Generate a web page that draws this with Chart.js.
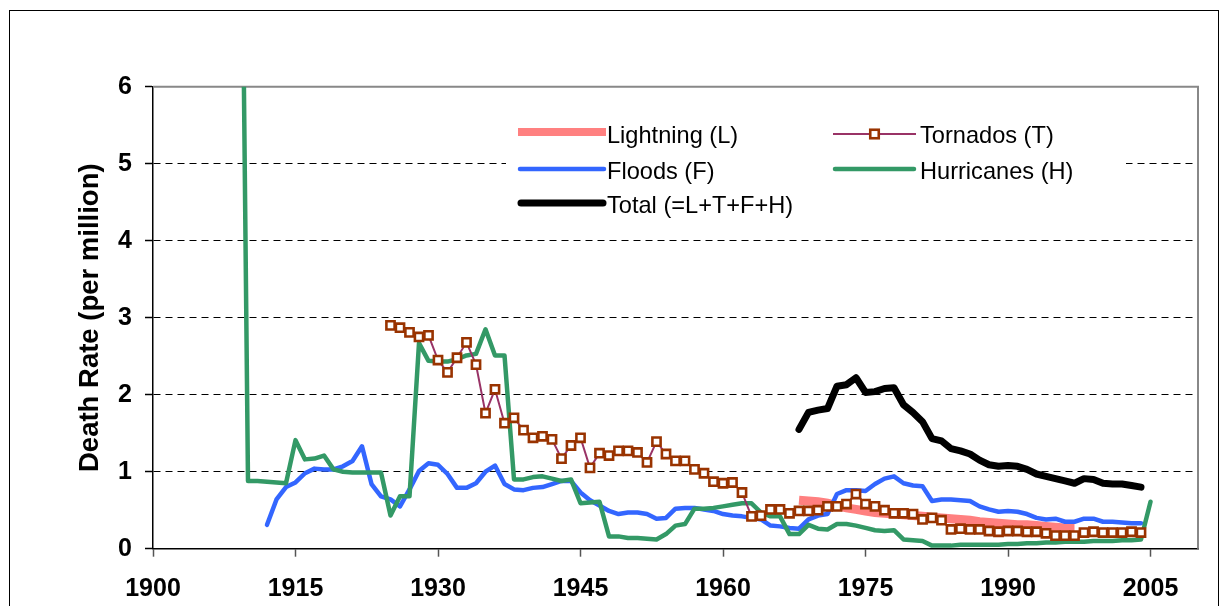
<!DOCTYPE html>
<html><head><meta charset="utf-8">
<script src="https://cdn.jsdelivr.net/npm/chart.js@4.4.1/dist/chart.umd.min.js"></script>
<style>html,body{margin:0;padding:0;background:#fff;}canvas{display:block;}</style>
</head><body>
<canvas id="c" width="1222" height="606"></canvas>
<script>
const _ = null;
const years = [1909,
 1910,1911,1912,1913,1914,1915,1916,1917,1918,1919,
 1920,1921,1922,1923,1924,1925,1926,1927,1928,1929,
 1930,1931,1932,1933,1934,1935,1936,1937,1938,1939,
 1940,1941,1942,1943,1944,1945,1946,1947,1948,1949,
 1950,1951,1952,1953,1954,1955,1956,1957,1958,1959,
 1960,1961,1962,1963,1964,1965,1966,1967,1968,1969,
 1970,1971,1972,1973,1974,1975,1976,1977,1978,1979,
 1980,1981,1982,1983,1984,1985,1986,1987,1988,1989,
 1990,1991,1992,1993,1994,1995,1996,1997,1998,1999,
 2000,2001,2002,2003,2004,2005];
const tickYears = [1900,1915,1930,1945,1960,1975,1990,2005];
const yTicks = [0,1,2,3,4,5,6];

const lightning = [_,
 _,_,_,_,_,_,_,_,_,_,
 _,_,_,_,_,_,_,_,_,_,
 _,_,_,_,_,_,_,_,_,_,
 _,_,_,_,_,_,_,_,_,_,
 _,_,_,_,_,_,_,_,_,_,
 _,_,_,_,_,_,_,_,0.63,0.62,
 0.61,0.59,0.56,0.53,0.51,0.49,0.47,0.46,0.45,0.44,
 0.43,0.42,0.41,0.40,0.39,0.38,0.37,0.35,0.34,0.33,
 0.32,0.31,0.31,0.30,0.29,0.28,0.27,0.27,_,_,
 _,_,_,_,_,_];
const tornados = [_,
 _,_,_,_,_,_,_,_,_,_,
 _,_,_,_,_,2.90,2.87,2.81,2.75,2.77,
 2.45,2.29,2.48,2.68,2.39,1.76,2.07,1.63,1.70,1.54,
 1.44,1.46,1.42,1.17,1.34,1.44,1.05,1.24,1.21,1.27,
 1.27,1.25,1.12,1.39,1.23,1.14,1.14,1.03,0.98,0.87,
 0.85,0.86,0.73,0.42,0.43,0.51,0.51,0.46,0.49,0.49,
 0.50,0.55,0.55,0.58,0.71,0.58,0.55,0.50,0.46,0.46,
 0.45,0.38,0.40,0.37,0.25,0.26,0.25,0.25,0.23,0.22,
 0.23,0.23,0.22,0.22,0.20,0.17,0.17,0.17,0.21,0.22,
 0.21,0.21,0.21,0.22,0.21,_];
const floods = [_,
 _,_,0.31,0.64,0.80,0.86,0.98,1.04,1.03,1.03,
 1.07,1.14,1.33,0.84,0.68,0.64,0.55,0.77,1.01,1.11,
 1.09,0.97,0.79,0.79,0.85,1.00,1.08,0.84,0.77,0.76,
 0.79,0.80,0.84,0.88,0.88,0.73,0.63,0.56,0.49,0.45,
 0.47,0.47,0.45,0.39,0.40,0.52,0.53,0.53,0.51,0.49,
 0.45,0.43,0.42,0.40,0.38,0.30,0.29,0.27,0.26,0.38,
 0.43,0.45,0.71,0.76,0.76,0.75,0.84,0.91,0.94,0.85,
 0.82,0.81,0.62,0.64,0.64,0.63,0.62,0.55,0.51,0.48,
 0.49,0.48,0.45,0.40,0.38,0.39,0.35,0.35,0.39,0.39,
 0.35,0.35,0.34,0.33,0.33,_];
const hurricanes = [12.8,
 0.88,0.88,0.87,0.86,0.85,1.41,1.16,1.17,1.21,1.03,
 1.00,0.99,0.99,0.99,0.99,0.43,0.68,0.68,2.67,2.44,
 2.43,2.43,2.46,2.51,2.53,2.85,2.51,2.51,0.90,0.90,
 0.93,0.94,0.91,0.88,0.90,0.59,0.60,0.61,0.16,0.16,
 0.14,0.14,0.13,0.12,0.19,0.30,0.32,0.52,0.52,0.53,
 0.55,0.57,0.59,0.59,0.47,0.42,0.42,0.19,0.19,0.31,
 0.26,0.25,0.32,0.32,0.30,0.27,0.24,0.23,0.24,0.12,
 0.11,0.10,0.04,0.04,0.04,0.05,0.05,0.05,0.05,0.05,
 0.06,0.06,0.07,0.07,0.08,0.08,0.09,0.09,0.09,0.10,
 0.10,0.10,0.11,0.11,0.12,0.61];
const total = [_,
 _,_,_,_,_,_,_,_,_,_,
 _,_,_,_,_,_,_,_,_,_,
 _,_,_,_,_,_,_,_,_,_,
 _,_,_,_,_,_,_,_,_,_,
 _,_,_,_,_,_,_,_,_,_,
 _,_,_,_,_,_,_,_,1.55,1.77,
 1.80,1.82,2.11,2.13,2.22,2.03,2.04,2.08,2.09,1.87,
 1.77,1.65,1.43,1.40,1.30,1.27,1.23,1.15,1.09,1.07,
 1.08,1.07,1.03,0.97,0.94,0.91,0.88,0.85,0.91,0.90,
 0.85,0.84,0.84,0.82,0.80,_];

const FONT = "'Liberation Sans', Arial, Helvetica, sans-serif";
Chart.defaults.font.family = FONT;
Chart.defaults.color = '#000';

const frame = {
  id: 'frame',
  beforeDraw(chart) {
    const c = chart.ctx;
    c.save();
    c.fillStyle = '#fff';
    c.fillRect(0, 0, chart.width, chart.height);
    c.strokeStyle = '#000';
    c.lineWidth = 1;
    c.strokeRect(9.5, 10.5, 1209, 700);
    c.restore();
  },
  beforeDatasetsDraw(chart) {
    const a = chart.chartArea, c = chart.ctx;
    c.save();
    c.strokeStyle = '#888';
    c.lineWidth = 2;
    c.beginPath();
    c.moveTo(a.left, a.top);
    c.lineTo(a.right, a.top);
    c.lineTo(a.right, a.bottom);
    c.stroke();
    c.restore();
  }
};

const legendBox = {
  id: 'legendBox',
  afterDraw(chart) {
    const c = chart.ctx;
    const ds = chart.data.datasets;
    c.save();
    c.fillStyle = '#fff';
    c.fillRect(506, 113, 620, 108);
    const entries = [
      {i: 0, x1: 518, x2: 606, ly: 132, tx: 607, ty: 143},
      {i: 1, x1: 833, x2: 916, ly: 134, tx: 920, ty: 143},
      {i: 2, x1: 520, x2: 604, ly: 169, tx: 607, ty: 179},
      {i: 3, x1: 835, x2: 914, ly: 169, tx: 920, ty: 179},
      {i: 4, x1: 521, x2: 603, ly: 203, tx: 607, ty: 213}
    ];
    c.font = '23.6px ' + FONT;
    c.textBaseline = 'alphabetic';
    c.textAlign = 'left';
    for (const e of entries) {
      const d = ds[e.i];
      c.strokeStyle = d.borderColor;
      c.lineWidth = d.legendLineWidth || d.borderWidth;
      c.lineCap = d.borderCapStyle || 'butt';
      c.beginPath();
      c.moveTo(e.x1, e.ly);
      c.lineTo(e.x2, e.ly);
      c.stroke();
      if (d.pointRadius) {
        const s = 8.5;
        const cx = (e.x1 + e.x2) / 2;
        c.fillStyle = d.pointBackgroundColor;
        c.fillRect(cx - s / 2, e.ly - s / 2, s, s);
        c.strokeStyle = d.pointBorderColor;
        c.lineWidth = d.pointBorderWidth;
        c.strokeRect(cx - s / 2, e.ly - s / 2, s, s);
      }
      c.fillStyle = '#000';
      c.fillText(d.label, e.tx, e.ty);
    }
    c.restore();
  }
};

new Chart(document.getElementById('c'), {
  type: 'line',
  data: {
    labels: years,
    datasets: [
      {label: 'Lightning (L)', data: lightning, borderColor: '#FF8080', borderWidth: 9, legendLineWidth: 8,
       borderCapStyle: 'butt', pointRadius: 0, order: 4},
      {label: 'Tornados (T)', data: tornados, borderColor: '#993366', borderWidth: 2,
       pointStyle: 'rect', pointRadius: 5.8, pointBorderWidth: 2.6, pointBorderColor: '#993300',
       pointBackgroundColor: '#FFFFFF', order: 1},
      {label: 'Floods (F)', data: floods, borderColor: '#3366FF', borderWidth: 4.5,
       borderCapStyle: 'round', borderJoinStyle: 'round', pointRadius: 0, order: 3},
      {label: 'Hurricanes (H)', data: hurricanes, borderColor: '#339966', borderWidth: 4.5,
       borderCapStyle: 'round', borderJoinStyle: 'round', pointRadius: 0, order: 2},
      {label: 'Total (=L+T+F+H)', data: total, borderColor: '#000000', borderWidth: 7,
       borderCapStyle: 'round', borderJoinStyle: 'round', pointRadius: 0, order: 0}
    ]
  },
  options: {
    responsive: false,
    animation: false,
    devicePixelRatio: 1,
    tension: 0,
    layout: {padding: {top: 86.7, right: 24, bottom: 0, left: 0}},
    plugins: {legend: {display: false}, tooltip: {enabled: false}},
    scales: {
      x: {
        type: 'linear', min: 1900, max: 2010,
        afterBuildTicks(s) { s.ticks = tickYears.map(v => ({value: v})); },
        afterFit(s) { s.height = 57.3; },
        grid: {drawOnChartArea: false, drawTicks: true, tickLength: 8, tickColor: '#555', tickWidth: 1.5, color: '#555'},
        border: {display: true, color: '#000', width: 1.5},
        ticks: {autoSkip: false, maxRotation: 0, padding: 17, color: '#000',
                font: {size: 25, weight: 'bold'}, callback: v => String(v)}
      },
      y: {
        min: 0, max: 6,
        afterBuildTicks(s) { s.ticks = yTicks.map(v => ({value: v})); },
        afterFit(s) { s.width = 153; },
        grid: {
          color: ctx => (ctx.tick && ctx.tick.value > 0 && ctx.tick.value < 6) ? '#000' : 'rgba(0,0,0,0)',
          lineWidth: 1, tickColor: '#000', tickLength: 8, tickWidth: 1.5, drawTicks: true
        },
        border: {display: true, color: '#000', width: 1.5, dash: [7, 5]},
        ticks: {padding: 13, color: '#000', font: {size: 25, weight: 'bold'}},
        title: {display: true, text: 'Death Rate (per million)', color: '#000',
                font: {size: 27.5, weight: 'bold'}, padding: {top: 74, bottom: 0}}
      }
    }
  },
  plugins: [frame, legendBox]
});
</script>
</body></html>
